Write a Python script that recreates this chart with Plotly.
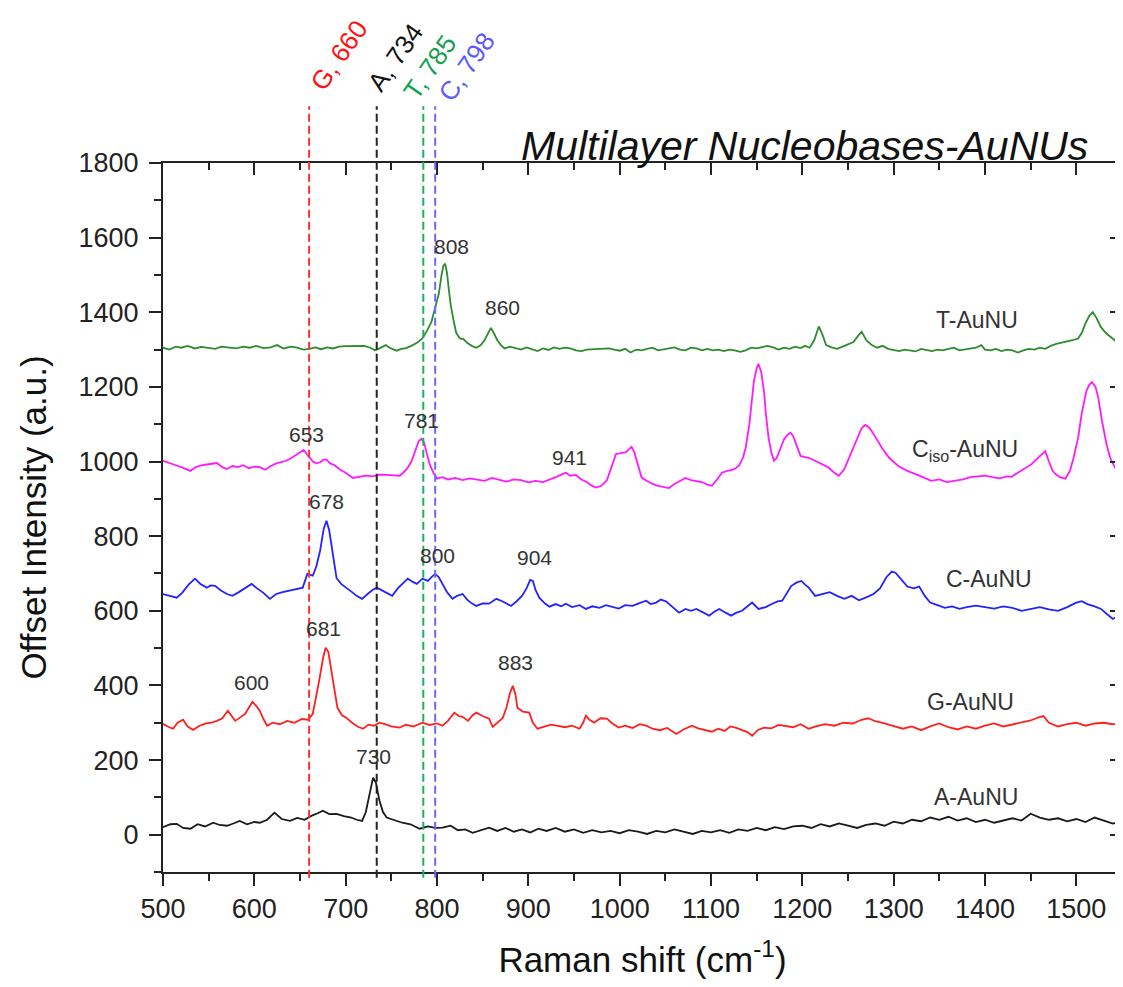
import plotly.graph_objects as go

# ---------------- data ----------------
a_x = [500,508,515,522,530,538,546,555,562,570,577,584,592,600,606,614,622,630,639,647,655,663,670,675,682,690,698,706,712,718,722,726,730,733,737,741,745,752,762,771,781,790,798,806,815,823,831,839,847,857,866,875,884,893,902,911,920,930,940,950,960,970,980,990,1000,1010,1020,1030,1040,1050,1060,1070,1080,1090,1100,1110,1120,1130,1140,1150,1160,1170,1180,1190,1200,1210,1220,1230,1240,1250,1260,1270,1280,1290,1300,1310,1320,1330,1340,1350,1360,1370,1380,1390,1400,1410,1420,1430,1440,1450,1460,1470,1480,1490,1500,1510,1520,1530,1540,1550]
a_y = [20,28,29,18,16,28,22,32,26,24,30,37,28,34,32,40,59,42,37,45,40,51,58,64,55,56,50,46,40,37,60,110,153,140,91,60,46,40,32,28,16,22,18,19,24,12,14,5,12,19,10,18,8,14,6,16,10,18,8,14,5,12,6,10,4,12,8,2,10,6,14,8,2,10,6,12,5,14,10,18,12,20,15,22,24,18,28,22,30,24,18,26,30,24,35,30,40,36,46,40,48,38,44,34,40,32,38,44,38,56,46,40,44,36,42,34,46,38,30,34]

g_x = [500,505,511,516,522,527,533,540,547,553,559,565,571,575,579,585,590,594,598,602,606,610,614,620,628,636,644,652,659,664,668,671,675,678,681,685,688,691,696,701,707,713,719,725,731,737,743,750,759,766,774,784,792,800,806,812,819,824,828,834,839,843,850,857,861,866,872,876,880,883,886,888,894,901,905,910,918,925,931,940,948,956,960,963,967,972,979,986,992,999,1006,1014,1022,1029,1036,1044,1052,1062,1070,1079,1086,1094,1101,1108,1115,1121,1127,1134,1140,1145,1151,1158,1166,1174,1182,1190,1198,1207,1215,1225,1235,1245,1255,1265,1272,1280,1290,1300,1310,1320,1330,1340,1350,1360,1370,1380,1390,1400,1410,1420,1430,1440,1450,1458,1464,1470,1480,1490,1500,1510,1520,1530,1540,1550]
g_y = [297,290,284,300,308,290,281,292,298,300,305,312,332,318,305,315,324,340,356,345,332,310,292,300,296,305,300,310,308,324,370,413,470,501,490,431,380,340,320,313,300,290,284,295,292,300,296,290,287,295,290,300,294,298,292,305,327,318,316,305,320,327,318,311,289,300,313,340,380,399,375,340,330,327,300,284,290,295,292,288,292,284,300,319,308,300,312,311,298,287,292,286,296,292,284,280,286,270,282,292,285,280,276,284,278,290,287,280,275,265,280,287,285,294,292,288,296,284,290,296,292,300,298,308,312,304,298,292,284,290,280,290,298,288,282,290,284,292,298,290,296,300,306,314,318,300,290,296,300,292,298,300,296,300]

c_x = [500,507,515,521,528,535,541,548,552,557,563,570,576,583,590,597,603,610,617,624,631,639,646,653,658,664,668,672,676,679,682,685,688,690,695,701,707,712,718,724,729,734,740,745,751,757,763,768,773,778,784,790,794,798,802,806,811,817,822,828,833,838,843,850,857,865,872,881,887,893,898,902,905,908,912,918,923,930,936,941,948,956,963,970,978,985,992,999,1006,1014,1021,1029,1034,1040,1045,1051,1058,1065,1072,1078,1084,1091,1098,1104,1109,1116,1122,1128,1134,1140,1145,1152,1160,1167,1173,1178,1184,1188,1194,1199,1203,1207,1214,1222,1230,1238,1246,1254,1262,1270,1278,1285,1292,1298,1302,1308,1315,1322,1328,1334,1340,1348,1356,1364,1372,1380,1390,1400,1410,1420,1430,1440,1450,1460,1470,1480,1490,1500,1506,1512,1520,1527,1534,1540,1545,1550]
c_y = [645,640,635,648,670,686,672,662,668,667,655,645,640,650,660,672,660,648,632,645,650,654,658,662,699,694,720,761,820,841,815,769,720,688,672,662,650,640,632,645,655,662,655,648,640,660,675,686,678,672,686,680,690,699,690,672,650,632,640,645,630,620,613,620,619,632,625,613,625,640,660,683,680,655,635,620,611,618,612,619,610,615,605,612,608,615,611,606,615,613,620,627,618,622,630,625,610,595,605,600,605,595,587,598,605,595,587,595,600,612,622,605,610,619,625,627,650,667,676,680,670,662,640,645,650,640,632,640,628,636,645,660,690,705,702,685,665,660,665,640,622,615,608,612,605,610,614,610,606,612,608,600,606,610,604,600,610,622,626,618,612,605,590,578,585,582]

ciso_x = [500,507,514,520,525,530,536,542,548,554,559,565,570,576,582,588,594,600,606,612,618,624,630,635,641,646,650,654,658,661,664,668,672,676,679,683,688,694,700,708,715,722,730,737,745,752,759,763,767,772,776,780,783,786,789,792,796,800,806,812,820,828,836,845,852,860,868,876,884,892,900,908,916,924,930,936,941,946,952,958,964,969,974,980,986,991,996,1000,1003,1007,1011,1013,1016,1020,1024,1030,1036,1042,1048,1054,1060,1066,1072,1078,1084,1090,1096,1101,1106,1112,1118,1124,1127,1131,1135,1138,1142,1145,1147,1150,1152,1155,1158,1160,1163,1166,1169,1172,1176,1180,1184,1187,1190,1194,1198,1203,1207,1214,1221,1228,1234,1240,1246,1251,1256,1261,1265,1269,1273,1279,1287,1295,1305,1315,1324,1332,1341,1350,1358,1368,1376,1384,1392,1400,1408,1416,1424,1429,1436,1443,1451,1458,1463,1466,1470,1474,1477,1482,1488,1493,1497,1502,1506,1511,1514,1517,1521,1524,1528,1533,1537,1540,1544,1550]
ciso_y = [1002,995,990,985,980,975,985,990,992,994,996,985,980,988,985,990,982,986,985,978,988,995,998,1002,1010,1018,1025,1031,1018,1008,1000,995,998,1005,1005,995,990,978,970,956,958,962,960,965,964,962,962,970,980,1000,1030,1055,1061,1050,1020,993,970,954,958,952,956,950,955,950,948,956,950,946,952,950,944,948,945,952,958,965,970,962,964,952,945,936,930,935,950,985,1020,1022,1023,1025,1035,1039,1025,990,957,948,940,935,932,929,940,948,956,950,948,945,938,935,950,970,975,978,982,990,1010,1037,1100,1170,1216,1250,1262,1240,1189,1130,1064,1025,1002,1010,1037,1060,1072,1077,1068,1040,1015,1012,1010,1002,993,985,972,962,980,1010,1040,1070,1090,1098,1092,1070,1037,1010,988,975,967,958,948,952,945,948,952,958,960,962,958,955,960,959,970,980,993,1010,1022,1028,1000,975,967,958,954,975,1010,1064,1130,1189,1205,1213,1200,1171,1110,1047,1010,993,975,970]

t_x = [500,507,514,520,527,535,542,550,557,564,572,580,588,595,602,610,618,625,632,640,647,654,660,667,673,680,686,693,700,707,713,720,727,732,736,740,744,748,752,756,760,766,772,778,784,789,794,798,802,805,807,809,811,813,815,818,821,825,829,833,838,843,848,852,856,859,862,866,870,874,880,886,892,898,904,910,916,922,928,934,940,946,952,958,964,970,976,982,988,994,1000,1006,1012,1018,1024,1030,1036,1042,1048,1054,1060,1066,1072,1078,1084,1090,1096,1102,1108,1114,1120,1126,1132,1138,1144,1150,1156,1162,1168,1174,1180,1186,1192,1198,1203,1208,1213,1218,1222,1226,1232,1238,1244,1250,1256,1262,1265,1270,1276,1282,1288,1294,1300,1306,1312,1318,1324,1330,1336,1342,1348,1354,1360,1366,1372,1378,1384,1390,1396,1400,1406,1412,1418,1424,1430,1436,1442,1448,1454,1460,1466,1472,1478,1484,1490,1496,1502,1506,1510,1514,1518,1522,1527,1532,1537,1542,1547,1550]
t_y = [1305,1300,1308,1305,1310,1303,1307,1305,1302,1308,1306,1303,1308,1305,1310,1304,1306,1312,1303,1308,1305,1300,1302,1306,1301,1306,1303,1308,1309,1310,1311,1310,1305,1298,1302,1308,1312,1305,1300,1297,1301,1304,1310,1318,1330,1350,1375,1410,1450,1500,1525,1530,1505,1460,1420,1380,1345,1330,1328,1318,1310,1305,1312,1325,1345,1358,1345,1325,1312,1303,1308,1305,1300,1306,1302,1296,1303,1299,1306,1302,1305,1303,1298,1296,1300,1301,1302,1304,1303,1300,1297,1302,1292,1300,1298,1302,1305,1298,1300,1302,1306,1300,1298,1305,1303,1298,1302,1298,1300,1296,1300,1298,1294,1298,1305,1303,1306,1310,1306,1300,1305,1302,1308,1304,1310,1305,1325,1362,1340,1312,1306,1302,1308,1315,1320,1340,1348,1325,1312,1305,1310,1302,1298,1296,1300,1298,1295,1302,1300,1296,1300,1298,1302,1305,1298,1300,1302,1305,1312,1300,1298,1302,1296,1300,1298,1292,1298,1302,1300,1305,1302,1310,1315,1318,1322,1325,1330,1345,1370,1390,1400,1385,1360,1345,1335,1325,1312,1310]

series_names = ["A-AuNU", "G-AuNU", "C-AuNU", "Ciso-AuNU", "T-AuNU"]
series_colors = ["#1a1a1a", "#ff2020", "#2323ff", "#ff1aff", "#2e8b2e"]

# reference (dashed) lines
ref_names = ["G", "A", "T", "C"]
ref_pos = [660, 734, 785, 798]
ref_line_colors = ["#ff3030", "#222222", "#1fb05a", "#6a6aff"]
ref_text_colors = ["#ff1010", "#111111", "#14a050", "#5a5aff"]
ref_label_x = [693, 755, 792, 832]
ref_label_y = [1.152, 1.149, 1.136, 1.136]

# peak labels
peak_labels = ["808", "860", "653", "781", "941", "678", "800", "904", "681", "600", "883", "730"]
peak_lx = [816, 872, 657, 783, 945, 679, 800, 907, 676, 597, 886, 731]
peak_ly = [1575, 1412, 1072, 1109, 1010, 892, 747, 742, 552, 407, 461, 209]

curve_labels = ["T-AuNU", "C<sub>iso</sub>-AuNU", "C-AuNU", "G-AuNU", "A-AuNU"]
curve_lx = [1391, 1378, 1404, 1384, 1390]
curve_ly = [1380, 1029, 686, 356, 102]

x_range = [500, 1550]
y_range = [-100, 1800]

# ---------------- figure ----------------
FONT = "Arial, Liberation Sans, sans-serif"
fig = go.Figure()

xs = [a_x, g_x, c_x, ciso_x, t_x]
ys = [a_y, g_y, c_y, ciso_y, t_y]
for name, col, xx, yy in zip(series_names, series_colors, xs, ys):
    fig.add_trace(go.Scatter(x=xx, y=yy, mode="lines", name=name,
                             line=dict(color=col, width=1.8), showlegend=False))

# invisible helper trace so the mirrored (top/right) axes get drawn
fig.add_trace(go.Scatter(x=a_x, y=a_y, xaxis="x2", yaxis="y2", mode="lines",
                         line=dict(width=0, color="rgba(0,0,0,0)"), hoverinfo="skip",
                         showlegend=False))

# dashed vertical reference lines + rotated labels
for nm, pos, lc, tc, lx, ly in zip(ref_names, ref_pos, ref_line_colors, ref_text_colors,
                                   ref_label_x, ref_label_y):
    fig.add_shape(type="line", xref="x", yref="paper", x0=pos, x1=pos,
                  y0=-0.008, y1=1.08, line=dict(color=lc, width=2, dash="8px,4px"))
    fig.add_annotation(x=lx, y=ly, xref="x", yref="paper", text=f"{nm}, {pos}",
                       showarrow=False, textangle=-55, xanchor="center", yanchor="middle",
                       font=dict(family=FONT, size=26, color=tc))

for t, lx, ly in zip(peak_labels, peak_lx, peak_ly):
    fig.add_annotation(x=lx, y=ly, text=t, showarrow=False,
                       font=dict(family=FONT, size=21, color="#333333"))

for t, lx, ly in zip(curve_labels, curve_lx, curve_ly):
    fig.add_annotation(x=lx, y=ly, text=t, showarrow=False,
                       font=dict(family=FONT, size=23, color="#333333"))

fig.add_annotation(x=1, y=1.0, xref="paper", yref="paper", xanchor="right", yanchor="bottom",
                   xshift=-32, yshift=-8,
                   text="<i>Multilayer Nucleobases-AuNUs</i>", showarrow=False,
                   font=dict(family=FONT, size=41, color="#111111"))

axis_common = dict(showline=True, linecolor="#222222", linewidth=2, showgrid=False,
                   zeroline=False, tickcolor="#222222", tickwidth=2, automargin=False)

# the page body keeps an 8px default margin, so the figure is sized to fit inside it
fig.update_layout(
    width=1115, height=979,
    margin=dict(l=155, r=1, t=155, b=115),
    plot_bgcolor="white", paper_bgcolor="white",
    font=dict(family=FONT, color="#222222"),
    xaxis=dict(range=x_range, dtick=100, tick0=500, ticks="outside", ticklen=12,
               tickfont=dict(size=27, color="#222222"),
               minor=dict(ticks="outside", ticklen=7, dtick=50, tickcolor="#222222", tickwidth=2),
               title=dict(text="Raman shift (cm<sup>-1</sup>)", font=dict(size=35, color="#111111"), standoff=24),
               **axis_common),
    yaxis=dict(range=y_range, dtick=200, tick0=0, ticks="outside", ticklen=12,
               tickfont=dict(size=27, color="#222222"), ticklabelstandoff=5,
               minor=dict(ticks="outside", ticklen=7, dtick=100, tickcolor="#222222", tickwidth=2),
               title=dict(text="Offset Intensity (a.u.)", font=dict(size=35, color="#111111"), standoff=21),
               **axis_common),
    xaxis2=dict(range=x_range, overlaying="x", side="top", anchor="y", dtick=100, tick0=500,
                ticks="inside", ticklen=12, showticklabels=False,
                minor=dict(ticks="inside", ticklen=7, dtick=50, tickcolor="#222222", tickwidth=2),
                **axis_common),
    yaxis2=dict(range=y_range, overlaying="y", side="right", anchor="x", dtick=200, tick0=0,
                ticks="inside", ticklen=12, showticklabels=False,
                minor=dict(ticks="inside", ticklen=7, dtick=100, tickcolor="#222222", tickwidth=2),
                **axis_common),
)

fig.write_html("out.html")
